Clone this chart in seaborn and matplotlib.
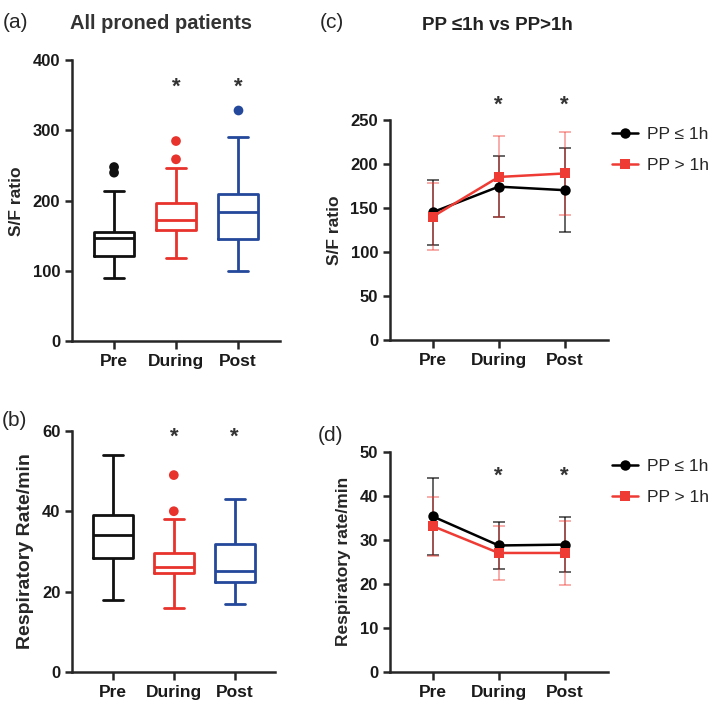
import pandas as pd
import seaborn as sns
import matplotlib.pyplot as plt

phases = ["Pre", "During", "Post"]
box_colors = ["#111111", "#e8332d", "#24489b"]

# (a) S/F ratio, all proned patients: whisker low, Q1, median, Q3, whisker high
sf_low = [90, 119, 100]
sf_q1 = [121, 158, 145]
sf_med = [147, 172, 184]
sf_q3 = [155, 197, 210]
sf_high = [214, 247, 291]
sf_out_phase = ["Pre", "Pre", "During", "During", "Post"]
sf_out_val = [240, 248, 259, 285, 329]

# (b) respiratory rate, all proned patients
rr_low = [18, 16, 17]
rr_q1 = [28.4, 24.5, 22.4]
rr_med = [34, 26.2, 25.2]
rr_q3 = [39, 29.7, 31.8]
rr_high = [54, 38, 43]
rr_out_phase = ["During", "During"]
rr_out_val = [40, 49]

# (c) S/F ratio, mean and SD by proning duration
groups = ["PP \u2264 1h", "PP > 1h"]
sf_short_mean = [145, 174, 170]
sf_short_sd = [37, 35, 48]
sf_long_mean = [140, 185, 189]
sf_long_sd = [38, 46, 47]

# (d) respiratory rate, mean and SD by proning duration
rr_short_mean = [35.3, 28.7, 28.9]
rr_short_sd = [8.7, 5.3, 6.2]
rr_long_mean = [33.1, 27.0, 27.0]
rr_long_sd = [6.7, 6.2, 7.3]

sns.set_theme(style="ticks")
plt.rcParams["font.family"] = ["Liberation Sans", "DejaVu Sans"]
plt.rcParams["axes.linewidth"] = 1.8
plt.rcParams["xtick.major.width"] = 1.8
plt.rcParams["ytick.major.width"] = 1.8
plt.rcParams["xtick.major.size"] = 6
plt.rcParams["ytick.major.size"] = 5

fig = plt.figure(figsize=(7.14, 7.17), dpi=100)


def five_number_frame(low, q1, med, q3, high):
    rows = []
    for i, p in enumerate(phases):
        for v in (low[i], q1[i], med[i], q3[i], high[i]):
            rows.append((p, v))
    return pd.DataFrame(rows, columns=["phase", "value"])


def box_panel(ax, df, out_phase, out_val, ylim, yticks, ylabel, labsize, stars_y, xlim):
    pal = dict(zip(phases, box_colors))
    sns.boxplot(data=df, x="phase", y="value", hue="phase", order=phases,
                palette=pal, fill=False, whis=(0, 100), width=0.66,
                linewidth=2, legend=False, ax=ax)
    outs = pd.DataFrame({"phase": out_phase, "value": out_val})
    sns.stripplot(data=outs, x="phase", y="value", hue="phase", order=phases,
                  palette=pal, jitter=False, size=7, legend=False, ax=ax)
    for p in ["During", "Post"]:
        ax.text(p, stars_y, "*", ha="center", va="center", fontsize=16,
                fontweight="bold", color="#333333")
    finish(ax, ylim, yticks, ylabel, labsize, xlim)


def finish(ax, ylim, yticks, ylabel, labsize, xlim):
    ax.set_ylim(*ylim)
    ax.set_yticks(yticks)
    ax.set_xlim(*xlim)
    ax.set_xlabel("")
    ax.set_ylabel(ylabel, fontsize=labsize, fontweight="bold", labelpad=6)
    for lab in ax.get_xticklabels():
        lab.set_fontweight("bold")
        lab.set_fontsize(12.5)
        lab.set_color("#1a1a1a")
    for lab in ax.get_yticklabels():
        lab.set_fontweight("bold")
        lab.set_fontsize(12)
        lab.set_color("#1a1a1a")
    sns.despine(ax=ax)


def line_panel(ax, short_mean, short_sd, long_mean, long_sd, ylim, yticks, ylabel, stars_y):
    df = pd.DataFrame({
        "phase": phases * 2,
        "group": [groups[0]] * 3 + [groups[1]] * 3,
        "mean": short_mean + long_mean,
        "sd": short_sd + long_sd,
    })
    cols = {groups[0]: "#000000", groups[1]: "#ee3b34"}
    sns.lineplot(data=df, x="phase", y="mean", hue="group", style="group",
                 markers={groups[0]: "o", groups[1]: "s"}, dashes=False,
                 palette=cols, markersize=7.5, markeredgewidth=0, linewidth=1.8,
                 sort=False, ax=ax, zorder=3)
    handles, labels = ax.get_legend_handles_labels()
    for g, alpha in zip(groups, [0.65, 0.45]):
        sub = df[df["group"] == g]
        ax.errorbar(sub["phase"], sub["mean"], yerr=sub["sd"], fmt="none",
                    ecolor=cols[g], alpha=alpha, elinewidth=1.3, capsize=4,
                    capthick=1.3, zorder=2)
    ax.legend(handles, labels, loc="upper left", bbox_to_anchor=(0.95, 1.04),
              frameon=False, fontsize=12.5, handlelength=1.5, handletextpad=0.5,
              labelspacing=0.95)
    for p in ["During", "Post"]:
        ax.text(p, stars_y, "*", ha="center", va="center", fontsize=16,
                fontweight="bold", color="#333333", clip_on=False)
    finish(ax, ylim, yticks, ylabel, 12.5, (-0.65, 2.65))


ax_a = fig.add_axes([0.101, 0.524, 0.291, 0.392])
box_panel(ax_a, five_number_frame(sf_low, sf_q1, sf_med, sf_q3, sf_high),
          sf_out_phase, sf_out_val, (0, 400), [0, 100, 200, 300, 400],
          "S/F ratio", 12.5, 362, (-0.677, 2.677))

ax_b = fig.add_axes([0.101, 0.063, 0.284, 0.336])
box_panel(ax_b, five_number_frame(rr_low, rr_q1, rr_med, rr_q3, rr_high),
          rr_out_phase, rr_out_val, (0, 60), [0, 20, 40, 60],
          "Respiratory Rate/min", 14, 58.5, (-0.67, 2.66))

ax_c = fig.add_axes([0.546, 0.526, 0.305, 0.307])
line_panel(ax_c, sf_short_mean, sf_short_sd, sf_long_mean, sf_long_sd,
           (0, 250), [0, 50, 100, 150, 200, 250], "S/F ratio", 266)

ax_d = fig.add_axes([0.546, 0.063, 0.305, 0.307])
line_panel(ax_d, rr_short_mean, rr_short_sd, rr_long_mean, rr_long_sd,
           (0, 50), [0, 10, 20, 30, 40, 50], "Respiratory rate/min", 44.5)

fig.text(0.022, 0.969, "(a)", ha="center", va="center", fontsize=15)
fig.text(0.225, 0.967, "All proned patients", ha="center", va="center",
         fontsize=14.5, fontweight="bold", color="#333333")
fig.text(0.465, 0.969, "(c)", ha="center", va="center", fontsize=15)
fig.text(0.696, 0.965, "PP \u22641h vs PP>1h", ha="center", va="center",
         fontsize=13.5, fontweight="bold", color="#222222")
fig.text(0.02, 0.414, "(b)", ha="center", va="center", fontsize=15)
fig.text(0.463, 0.393, "(d)", ha="center", va="center", fontsize=15)

fig.savefig("out.png", dpi=100)
